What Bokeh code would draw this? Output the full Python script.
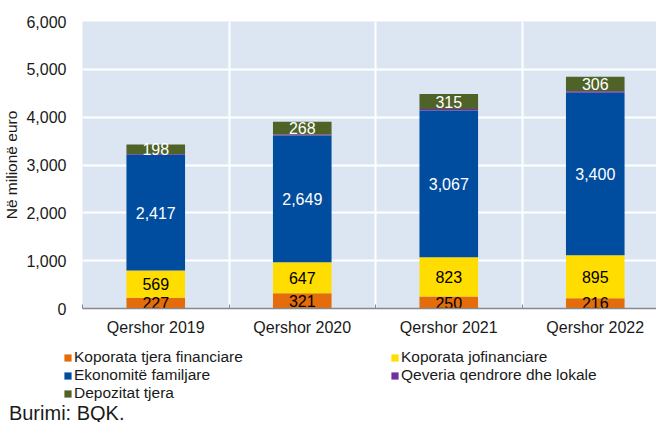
import numpy as np
from bokeh.plotting import figure
from bokeh.layouts import column, row
from bokeh.models import (ColumnDataSource, Range1d, FixedTicker, NumeralTickFormatter,
                          Legend, LegendItem, Label, BoxAnnotation)
from bokeh.core.properties import value
from bokeh.embed import file_html
from bokeh.resources import INLINE

categories = ["Qershor 2019", "Qershor 2020", "Qershor 2021", "Qershor 2022"]
series_names = ["Koporata tjera financiare", "Koporata jofinanciare", "Ekonomitë familjare",
                "Qeveria qendrore dhe lokale", "Depozitat tjera"]
other_financial = [227, 321, 250, 216]
non_financial = [569, 647, 823, 895]
households = [2417, 2649, 3067, 3400]
government = [15, 20, 30, 30]
other_deposits = [198, 268, 315, 306]
y_ticks = [0, 1000, 2000, 3000, 4000, 5000, 6000]
source_note = "Burimi: BQK."

colors = ["#E46C0A", "#FFDD00", "#004DA0", "#7030A0", "#4F6228"]
label_colors = ["#000000", "#000000", "#FFFFFF", None, "#FFFFFF"]
FONT = "Liberation Sans"
TXT = "#1a1a1a"

series = [other_financial, non_financial, households, government, other_deposits]
keys = ["s0", "s1", "s2", "s3", "s4"]
xpos = [i + 0.5 for i in range(len(categories))]
data = {"x": xpos}
for k, s in zip(keys, series):
    data[k] = s
source = ColumnDataSource(data)

# ---------------- main chart ----------------
p = figure(width=656, height=338, output_backend="svg", toolbar_location=None,
           x_range=Range1d(0, 3.918), y_range=Range1d(0, 6000),
           min_border_left=82, min_border_right=0, min_border_top=21, min_border_bottom=29)
p.background_fill_color = "#DCE6F2"
p.border_fill_color = "#FFFFFF"
p.outline_line_color = None

renderers = p.vbar_stack(keys, x="x", width=0.4, color=colors, line_color=None, source=source)

arr = np.array(series, dtype=float)
bottoms = np.vstack([np.zeros(arr.shape[1]), np.cumsum(arr, axis=0)[:-1]])
for i, (s, col) in enumerate(zip(series, label_colors)):
    if col is None:
        continue
    mids = (bottoms[i] + arr[i] / 2).tolist()
    txt = [f"{v:,}" for v in s]
    ls = ColumnDataSource(dict(x=xpos, y=mids, t=txt))
    p.text(x="x", y="y", text="t", source=ls, text_align="center", text_baseline="middle",
           text_color=col, text_font=value(FONT), text_font_size="16px")

p.yaxis.ticker = FixedTicker(ticks=y_ticks)
p.yaxis.formatter = NumeralTickFormatter(format="0,0")
p.yaxis.axis_line_color = None
p.yaxis.major_tick_line_color = None
p.yaxis.minor_tick_line_color = None
p.yaxis.major_tick_out = 0
p.yaxis.major_label_standoff = 16
p.yaxis.major_label_text_font = FONT
p.yaxis.major_label_text_font_size = "16px"
p.yaxis.major_label_text_color = TXT
p.yaxis.axis_label = "Në milionë euro"
p.yaxis.axis_label_text_font = FONT
p.yaxis.axis_label_text_font_size = "15.5px"
p.yaxis.axis_label_text_font_style = "normal"
p.yaxis.axis_label_text_color = TXT
p.yaxis.axis_label_standoff = 3

p.xaxis.ticker = FixedTicker(ticks=xpos, minor_ticks=[0, 1, 2, 3])
p.xaxis.major_label_overrides = {x: c for x, c in zip(xpos, categories)}
p.xaxis.axis_line_color = "#898989"
p.xaxis.axis_line_width = 1.5
p.xaxis.major_tick_line_color = None
p.xaxis.major_tick_out = 0
p.xaxis.major_tick_in = 0
p.xaxis.minor_tick_line_color = "#898989"
p.xaxis.minor_tick_in = 4
p.xaxis.minor_tick_out = 0
p.xaxis.major_label_standoff = 10
p.xaxis.major_label_text_font = FONT
p.xaxis.major_label_text_font_size = "16px"
p.xaxis.major_label_text_color = TXT

p.ygrid.ticker = FixedTicker(ticks=y_ticks)
p.ygrid.grid_line_color = "#FFFFFF"
p.ygrid.grid_line_width = 2
p.xgrid.ticker = FixedTicker(ticks=[1, 2, 3])
p.xgrid.grid_line_color = "#FFFFFF"
p.xgrid.grid_line_width = 2

# ---------------- legend + source note ----------------
H2 = 84
p2 = figure(width=656, height=H2, output_backend="svg", toolbar_location=None,
            x_range=Range1d(0, 3.918), y_range=Range1d(0, 6000),
            x_axis_location=None, y_axis_location=None,
            min_border_left=0, min_border_right=0, min_border_top=0, min_border_bottom=0)
p2.grid.visible = False
p2.outline_line_color = None
p2.background_fill_color = "#FFFFFF"

# legend proxies: same series, covered by an opaque white box so only the legend shows
proxies = p2.vbar_stack(keys, x="x", width=0.4, color=colors, line_color=None, source=source)
cover = BoxAnnotation(fill_color="#FFFFFF", fill_alpha=1.0, line_color=None)
p2.add_layout(cover)

items = [LegendItem(label=n, renderers=[r]) for n, r in zip(series_names, proxies)]
legend = Legend(items=items, orientation="horizontal", ncols=2, location=(63, 20),
                glyph_width=9, glyph_height=9, label_standoff=2, label_width=316,
                label_height=17, spacing=0, padding=0, margin=0,
                background_fill_alpha=0, border_line_color=None,
                label_text_font=FONT, label_text_font_size="15.5px",
                label_text_color=TXT)
p2.add_layout(legend, "center")

note = Label(x=8.4, y=10, x_units="screen", y_units="screen", text=source_note,
             text_font=FONT, text_font_size="20px", text_color=TXT,
             text_baseline="alphabetic")
p2.add_layout(note)

open("out.html", "w").write(file_html(column(p, row(p2)), INLINE))
